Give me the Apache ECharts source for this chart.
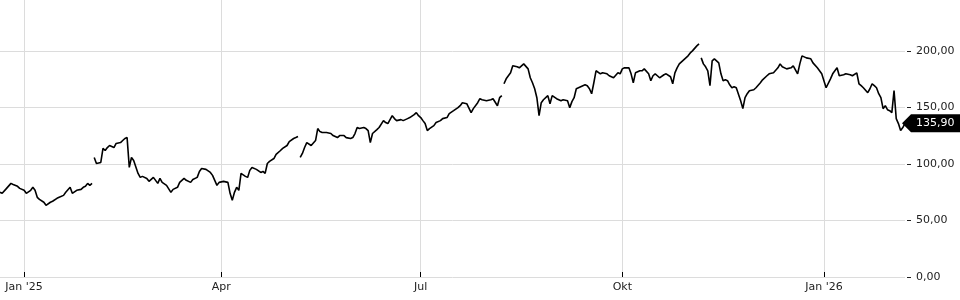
<!DOCTYPE html>
<html><head><meta charset="utf-8">
<script src="https://cdn.jsdelivr.net/npm/echarts@6/dist/echarts.min.js"></script>
<style>html,body{margin:0;padding:0;background:#fff}#c{width:960px;height:300px}</style>
</head><body><div id="c"></div>
<script>
// Daily samples; null marks a break in the line
const dates = [
'2024-12-21','2024-12-22','2024-12-24','2024-12-26','2024-12-27','2024-12-29','2024-12-30','2025-01-01','2025-01-02','2025-01-04',
'2025-01-05','2025-01-06','2025-01-07','2025-01-08','2025-01-10','2025-01-11','2025-01-13','2025-01-14','2025-01-16','2025-01-17',
'2025-01-19','2025-01-20','2025-01-22','2025-01-23','2025-01-25','2025-01-27','2025-01-28','2025-01-29','2025-01-30','2025-01-31',
'2025-02-01','2025-02-01',
'2025-02-02','2025-02-03','2025-02-05','2025-02-06','2025-02-07','2025-02-08','2025-02-09','2025-02-11','2025-02-12','2025-02-14',
'2025-02-15','2025-02-16','2025-02-17','2025-02-18','2025-02-19','2025-02-20','2025-02-22','2025-02-23','2025-02-24','2025-02-26',
'2025-02-27','2025-03-01','2025-03-03','2025-03-04','2025-03-05','2025-03-07','2025-03-09','2025-03-10','2025-03-12','2025-03-13',
'2025-03-15','2025-03-16','2025-03-18','2025-03-19','2025-03-21','2025-03-22','2025-03-23','2025-03-25','2025-03-27','2025-03-28',
'2025-03-29','2025-03-30','2025-03-31','2025-04-02','2025-04-04','2025-04-05','2025-04-06','2025-04-07','2025-04-08','2025-04-09',
'2025-04-10','2025-04-12','2025-04-13','2025-04-14','2025-04-15','2025-04-17','2025-04-19','2025-04-20','2025-04-21','2025-04-22',
'2025-04-23','2025-04-25','2025-04-26','2025-04-28','2025-04-29','2025-05-01','2025-05-02','2025-05-04','2025-05-05','2025-05-06',
'2025-05-06',
'2025-05-07','2025-05-08','2025-05-09','2025-05-10','2025-05-12','2025-05-14','2025-05-15','2025-05-16','2025-05-17','2025-05-19',
'2025-05-21','2025-05-22','2025-05-24','2025-05-25','2025-05-27','2025-05-28','2025-05-30','2025-05-31','2025-06-01','2025-06-02',
'2025-06-03','2025-06-05','2025-06-06','2025-06-07','2025-06-08','2025-06-09','2025-06-11','2025-06-12','2025-06-14','2025-06-15',
'2025-06-16','2025-06-18','2025-06-19','2025-06-20','2025-06-22','2025-06-23','2025-06-25','2025-06-26','2025-06-28','2025-06-29',
'2025-06-30','2025-07-01','2025-07-02','2025-07-03','2025-07-04','2025-07-05','2025-07-07','2025-07-08','2025-07-10','2025-07-11',
'2025-07-13','2025-07-14','2025-07-16','2025-07-18','2025-07-19','2025-07-20','2025-07-22','2025-07-24','2025-07-25','2025-07-27',
'2025-07-28','2025-07-29','2025-07-31','2025-08-02','2025-08-03','2025-08-05','2025-08-06','2025-08-07',
'2025-08-07',
'2025-08-08','2025-08-09','2025-08-11','2025-08-12','2025-08-14','2025-08-15','2025-08-17','2025-08-19','2025-08-20','2025-08-21',
'2025-08-22','2025-08-23','2025-08-24','2025-08-25','2025-08-26','2025-08-28','2025-08-29','2025-08-30','2025-09-01','2025-09-03',
'2025-09-04','2025-09-06','2025-09-07','2025-09-08','2025-09-09','2025-09-10','2025-09-11','2025-09-13','2025-09-14','2025-09-15',
'2025-09-16','2025-09-17','2025-09-18','2025-09-19','2025-09-21','2025-09-22','2025-09-24','2025-09-25','2025-09-27','2025-09-29',
'2025-09-30','2025-10-01','2025-10-02','2025-10-04','2025-10-05','2025-10-06','2025-10-07','2025-10-08','2025-10-09','2025-10-10',
'2025-10-11','2025-10-13','2025-10-14','2025-10-15','2025-10-16','2025-10-17','2025-10-18','2025-10-20','2025-10-21','2025-10-23',
'2025-10-24','2025-10-25','2025-10-26','2025-10-27','2025-10-29','2025-10-31','2025-11-01','2025-11-02','2025-11-04','2025-11-05',
'2025-11-05',
'2025-11-06','2025-11-07','2025-11-08','2025-11-09','2025-11-10','2025-11-11','2025-11-12','2025-11-14','2025-11-15','2025-11-16',
'2025-11-17','2025-11-18','2025-11-19','2025-11-20','2025-11-21','2025-11-22','2025-11-24','2025-11-25','2025-11-26','2025-11-27',
'2025-11-28','2025-11-30','2025-12-01','2025-12-03','2025-12-04','2025-12-06','2025-12-07','2025-12-09','2025-12-11','2025-12-12',
'2025-12-13','2025-12-15','2025-12-17','2025-12-18','2025-12-20','2025-12-21','2025-12-22','2025-12-24','2025-12-26','2025-12-27',
'2025-12-29','2025-12-30','2025-12-31','2026-01-02','2026-01-04','2026-01-05','2026-01-07','2026-01-08','2026-01-10','2026-01-11',
'2026-01-13','2026-01-14','2026-01-16','2026-01-17','2026-01-18','2026-01-19','2026-01-21','2026-01-22','2026-01-23','2026-01-24',
'2026-01-25','2026-01-26','2026-01-27','2026-01-28','2026-01-29','2026-01-30','2026-01-31','2026-02-01','2026-02-02','2026-02-03',
'2026-02-04','2026-02-05','2026-02-06','2026-02-07'
];
const prices = [
74.9,74.0,78.4,82.8,81.9,80.2,78.4,76.7,74.0,76.7,
79.3,76.7,70.5,68.7,66.1,63.4,66.1,67.0,69.6,70.5,
72.2,74.9,79.3,74.0,76.7,77.5,79.3,80.2,82.8,81.1,
82.8,null,
105.7,100.4,101.3,113.7,111.9,114.5,116.3,114.5,118.1,118.9,
120.7,122.5,123.3,96.9,105.7,103.1,91.6,88.1,89.0,87.2,
84.6,88.1,82.8,87.2,83.7,81.1,74.9,77.5,79.3,83.7,
87.2,85.5,83.7,86.3,88.1,93.4,96.0,95.2,92.5,89.9,
85.5,81.1,83.7,84.6,83.7,74.0,67.8,74.9,79.3,76.7,
91.6,89.0,88.1,94.3,96.9,95.2,92.5,93.4,91.6,100.4,
102.2,104.8,108.4,111.9,113.7,116.3,119.8,122.5,123.3,124.2,
null,
105.7,109.3,114.5,118.9,116.3,120.7,131.3,128.6,127.8,127.8,
126.9,125.1,123.3,125.1,125.1,123.3,122.5,123.3,126.9,132.2,
131.3,132.2,131.3,129.5,118.9,126.9,130.4,132.2,138.3,136.6,
135.7,142.7,140.1,138.3,139.2,138.3,140.1,141.0,143.6,145.4,
142.7,141.0,138.3,135.7,129.5,131.3,133.9,136.6,138.3,140.1,
141.0,144.5,147.1,149.8,151.5,154.2,153.3,145.4,148.9,154.2,
157.7,156.8,155.9,156.8,157.7,151.5,158.6,160.4,
null,
170.9,175.3,180.6,186.8,185.9,185.0,188.5,184.1,176.2,171.8,
166.5,158.6,142.7,154.2,156.8,160.4,153.3,160.4,157.7,155.9,
156.8,155.9,149.8,155.1,158.6,166.5,167.4,169.2,170.0,169.2,
166.5,162.1,171.8,182.4,179.7,180.6,179.7,178.0,176.2,180.6,
179.7,184.1,185.0,185.0,179.7,171.8,180.6,181.5,182.4,182.4,
184.1,179.7,173.6,178.0,179.7,178.0,176.2,178.9,179.7,177.1,
170.9,180.6,185.0,188.5,192.1,195.6,198.2,200.0,204.4,206.2,
null,
193.8,188.5,185.9,182.4,169.2,191.2,193.0,189.4,179.7,173.6,
174.4,173.6,170.0,167.4,168.3,167.4,155.9,148.9,158.6,162.1,
164.8,165.6,167.4,171.8,174.4,178.0,179.7,180.6,185.0,188.5,
185.9,184.1,185.0,186.8,179.7,188.5,195.6,193.8,193.0,189.4,
185.0,182.4,179.7,167.4,175.3,179.7,185.0,178.0,178.9,179.7,
178.9,178.0,180.6,170.9,169.2,167.4,163.0,166.5,170.9,169.2,
167.4,162.1,158.6,148.9,151.5,148.0,147.1,145.4,164.8,140.1,
135.7,129.5,132.2,135.9
];
const xRange = ['2024-12-21', '2026-02-07'];
const xTickDates = ['2025-01-01','2025-04-01','2025-07-01','2025-10-01','2026-01-01'];
const xTickLabels = ["Jan '25", 'Apr', 'Jul', 'Okt', "Jan '26"];
const yTicks = [0, 50, 100, 150, 200];
const yMin = 0, yMax = 245;
const lastDate = dates[dates.length - 1];
const lastPrice = prices[prices.length - 1];

// date string -> UTC milliseconds (axis unit)
const toMs = s => { const p = s.split('-').map(Number); return Date.UTC(p[0], p[1] - 1, p[2]); };
const fmtNum = v => v.toFixed(2).replace('.', ',');
const FONT = 'DejaVu Sans';
const chart = echarts.init(document.getElementById('c'), null, {renderer: 'canvas'});
const lineData = dates.map((d, i) => [toMs(d), prices[i]]);
const tickTimes = xTickDates.map(toMs);

chart.setOption({
  animation: false,
  backgroundColor: '#fff',
  grid: {left: 0, right: 55, top: -1, bottom: 23, containLabel: false},
  xAxis: {
    type: 'value', scale: true,
    min: toMs(xRange[0]), max: toMs(xRange[1]),
    offset: 21,
    axisLine: {show: false},
    axisTick: {show: true, inside: true, length: 5, lineStyle: {color: '#000', width: 1}, customValues: tickTimes},
    axisLabel: {
      inside: true, margin: 5, color: '#222', fontFamily: FONT, fontSize: 11,
      customValues: tickTimes,
      formatter: function (val) {
        let best = 0;
        for (let i = 1; i < tickTimes.length; i++) {
          if (Math.abs(tickTimes[i] - val) < Math.abs(tickTimes[best] - val)) best = i;
        }
        return xTickLabels[best];
      }
    },
    splitLine: {show: true, lineStyle: {color: '#dcdcdc', width: 1}}
  },
  yAxis: {
    type: 'value', position: 'right',
    min: yMin, max: yMax,
    offset: 2,
    axisLine: {show: false},
    axisTick: {show: true, length: 4, lineStyle: {color: '#222', width: 1}, customValues: yTicks},
    axisLabel: {margin: 9, color: '#222', fontFamily: FONT, fontSize: 11, customValues: yTicks, formatter: v => fmtNum(v)},
    splitLine: {show: true, lineStyle: {color: '#dcdcdc', width: 1}}
  },
  series: [
    {
      type: 'line', data: lineData, showSymbol: false, connectNulls: false,
      lineStyle: {color: '#000', width: 1.6}, itemStyle: {color: '#000'}, z: 3
    },
    {
      type: 'custom', data: [[toMs(lastDate), lastPrice]], clip: false, z: 5, silent: true,
      renderItem: function (params, api) {
        const p = api.coord([api.value(0), api.value(1)]);
        const cs = params.coordSys;
        const x0 = cs.x + cs.width;
        const y = p[1];
        const W = api.getWidth();
        return {
          type: 'group',
          children: [
            {type: 'polygon', shape: {points: [[x0 - 3, y], [x0 + 6, y - 9], [W, y - 9], [W, y + 9], [x0 + 6, y + 9]]}, style: {fill: '#000'}},
            {type: 'text', x: x0 + 11, y: y, style: {text: fmtNum(api.value(1)), fill: '#fff', font: '11px "DejaVu Sans"', verticalAlign: 'middle', align: 'left'}}
          ]
        };
      }
    }
  ]
});
</script></body></html>
